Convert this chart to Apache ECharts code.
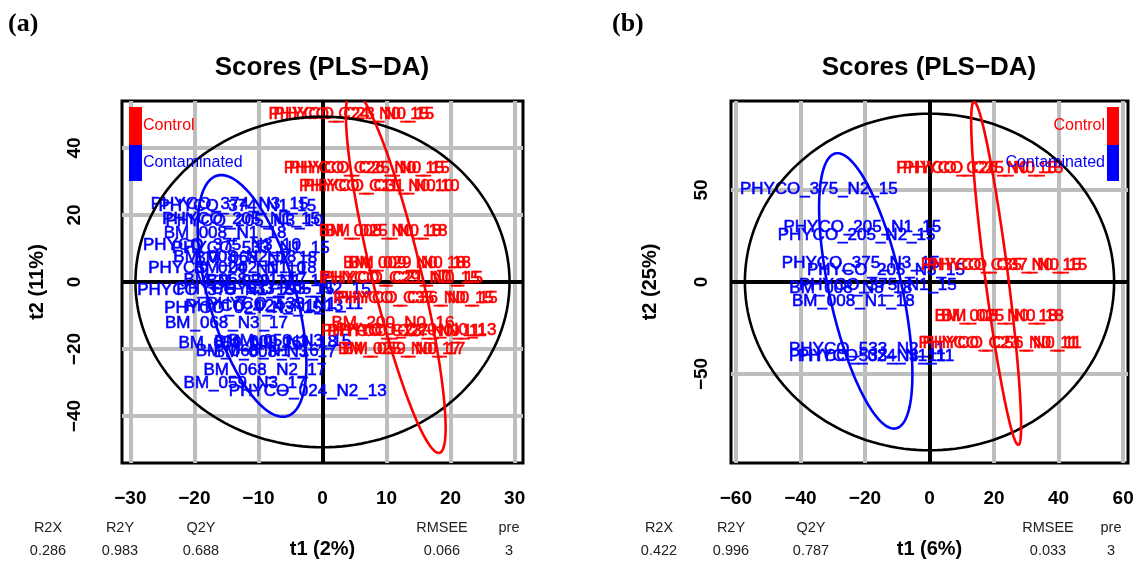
<!DOCTYPE html>
<html>
<head>
<meta charset="utf-8">
<script src="https://cdn.jsdelivr.net/npm/echarts@6/dist/echarts.min.js"></script>
<style>
  html, body { margin: 0; padding: 0; background: #fff; }
  #chart { width: 1137px; height: 567px; }
</style>
</head>
<body>
<div id="chart"></div>
<script>
// ---- data ----
const groups = ['Control', 'Contaminated']
const statNames = ['R2X', 'R2Y', 'Q2Y', 'RMSEE', 'pre']
const statsA = ['0.286', '0.983', '0.688', '0.066', '3']
const statsB = ['0.422', '0.996', '0.787', '0.033', '3']

const ticksAx = [-30, -20, -10, 0, 10, 20, 30]
const ticksAy = [-40, -20, 0, 20, 40]
const ticksBx = [-60, -40, -20, 0, 20, 40, 60]
const ticksBy = [-50, 0, 50]

// [t1, t2, sample]
const controlA = [
  [4.1, 49.9, 'PHYCO_C24_N0_15'],
  [4.9, 49.9, 'PHYCO_C23_N0_15'],
  [6.5, 33.9, 'PHYCO_C26_N0_15'],
  [7.3, 33.9, 'PHYCO_C25_N0_15'],
  [8.4, 28.4, 'PHYCO_C11_N0.10'],
  [9.2, 28.4, 'PHYCO_C31_N0.10'],
  [9.0, 15.0, 'BM_008_N0_18'],
  [9.9, 15.0, 'BM_025_N0_18'],
  [12.8, 5.7, 'BM_009_N0_18'],
  [13.6, 5.7, 'BM_029_N0_18'],
  [12.0, 1.2, 'PHYCO_C29_N0_15'],
  [12.5, 1.2, 'PHYCO_C21_N0_15'],
  [14.2, -5.0, 'PHYCO_C35_N0_15'],
  [14.8, -5.0, 'PHYCO_C36_N0_15'],
  [11.0, -12.3, 'BM_200_N0_16'],
  [12.2, -14.8, 'PHYCO_C23_N0_11'],
  [13.2, -14.6, 'PHYCO_C27_N0_11'],
  [14.6, -14.3, 'PHYCO_C20_N0_13'],
  [12.0, -20.2, 'BM_025_N0_17'],
  [12.7, -20.2, 'BM_059_N0_17']
]
const contamA = [
  [-14.5, 23.2, 'PHYCO_374_N3_15'],
  [-13.3, 22.6, 'PHYCO_374_N1_15'],
  [-12.7, 18.8, 'PHYCO_205_N1_15'],
  [-12.2, 18.2, 'PHYCO_205_N3_10'],
  [-15.2, 14.6, 'BM_008_N1_18'],
  [-15.7, 11.0, 'PHYCO_375_N3_10'],
  [-11.2, 10.1, 'PHYCO_533_N1_15'],
  [-13.7, 7.5, 'BM_008_N2_18'],
  [-10.4, 7.2, 'BM_068_N2_18'],
  [-14.9, 4.2, 'PHYCO_024_N1_10'],
  [-10.5, 4.2, 'BM_002_N1_18'],
  [-12.1, 0.6, 'BM_068_N1_17'],
  [-8.5, 0.3, 'BM_059_N1_17'],
  [-16.6, -2.4, 'PHYCO_375_N1_15'],
  [-10.5, -2.1, 'PHYCO_533_N3_15'],
  [-4.8, -2.1, 'PHYCO_205_N2_15'],
  [-12.4, -7.8, 'PHYCO_024_N3_15'],
  [-9.1, -7.2, 'PHYCO_024_N1_13'],
  [-5.9, -6.6, 'PHYCO_533_N1_11'],
  [-15.0, -12.3, 'BM_068_N3_17'],
  [-12.9, -18.2, 'BM_059_N2_16'],
  [-7.3, -18.0, 'BM_009_N3_18'],
  [-5.1, -17.6, 'BM_050_N3_15'],
  [-10.2, -20.6, 'BM_068_N1_16'],
  [-7.4, -20.9, 'BM_008_N3_17'],
  [-9.0, -26.3, 'BM_068_N2_17'],
  [-12.1, -30.3, 'BM_059_N3_17'],
  [-2.3, -32.7, 'PHYCO_024_N2_13']
]
const controlB = [
  [14.6, 62.0, 'PHYCO_C26_N0_15'],
  [16.6, 62.0, 'PHYCO_C25_N0_15'],
  [22.2, 9.2, 'PHYCO_C35_N0_15'],
  [24.0, 9.2, 'PHYCO_C37_N0_15'],
  [20.6, -18.9, 'BM_008_N0_18'],
  [22.6, -18.9, 'BM_025_N0_18'],
  [21.3, -33.3, 'PHYCO_C23_N0_11'],
  [22.5, -33.3, 'PHYCO_C56_N0_11']
]
const contamB = [
  [-34.3, 50.5, 'PHYCO_375_N2_15'],
  [-20.8, 30.0, 'PHYCO_205_N1_15'],
  [-22.6, 25.5, 'PHYCO_205_N2_15'],
  [-21.3, 10.2, 'PHYCO_375_N3_15'],
  [-13.5, 6.5, 'PHYCO_205_N3_15'],
  [-16.0, -1.6, 'PHYCO_375_N1_15'],
  [-24.4, -3.4, 'BM_008_N3_18'],
  [-23.6, -10.7, 'BM_008_N1_18'],
  [-19.3, -36.4, 'PHYCO_533_N2_11'],
  [-19.3, -40.6, 'PHYCO_533_N3_11'],
  [-16.6, -40.6, 'PHYCO_024_N1_11']
]

// ellipses: [centre t1, centre t2, semi-axis u (t1, t2), conjugate semi-axis v (t1, t2)]
const hotellingA = [[0, 0, 29.2, 0, 0, 49.3]]
const ellipseCtrlA = [[11.44, 3.15, 6.7, -54.15, 3.96, 0]]
const ellipseContA = [[-11.0, -4.15, 4.8, -36.05, 7.0, 0]]
const hotellingB = [[0, 0, 57.2, 0, 0, 91.5]]
const ellipseCtrlB = [[20.65, 4.7, 6.85, -93.3, 3.6, 0]]
const ellipseContB = [[-19.75, -4.85, 8.75, -74.85, 11.5, 0]]

// ---- drawing ----
const SANS = 'Liberation Sans, Arial, sans-serif'
const RED = '#FF0000'
const BLUE = '#0000FF'
const mChart = echarts.init(document.getElementById('chart'))

const fmt = v => (v < 0 ? '\u2212' + Math.abs(v) : String(v))

function makeX(i, min, max, ticks, name) {
  return {
    type: 'value', gridIndex: i, min, max,
    axisLine: { show: false },
    splitLine: { show: false },
    axisTick: { show: true, customValues: ticks, length: 14, lineStyle: { color: '#000', width: 1.5 } },
    axisLabel: {
      customValues: ticks, margin: 26, formatter: fmt,
      color: '#000', fontSize: 19, fontWeight: 'bold', fontFamily: SANS
    },
    name, nameLocation: 'middle', nameGap: 76,
    nameTextStyle: { color: '#000', fontSize: 20, fontWeight: 'bold', fontFamily: SANS }
  }
}

function makeY(i, min, max, ticks, name, margin, gap) {
  return {
    type: 'value', gridIndex: i, min, max,
    axisLine: { show: false },
    splitLine: { show: false },
    axisTick: { show: true, customValues: ticks, length: 14, lineStyle: { color: '#000', width: 1.5 } },
    axisLabel: {
      customValues: ticks, margin, rotate: 90, formatter: fmt,
      color: '#000', fontSize: 19, fontWeight: 'bold', fontFamily: SANS
    },
    name, nameLocation: 'middle', nameGap: gap,
    nameTextStyle: { color: '#000', fontSize: 20, fontWeight: 'bold', fontFamily: SANS }
  }
}

function refLines(i, xs, ys, color, width, z) {
  return {
    type: 'line', xAxisIndex: i, yAxisIndex: i, data: [], silent: true,
    markLine: {
      silent: true, z, symbol: ['none', 'none'], label: { show: false },
      emphasis: { disabled: true },
      lineStyle: { color, width, type: 'solid' },
      data: xs.map(v => ({ xAxis: v })).concat(ys.map(v => ({ yAxis: v })))
    }
  }
}

function labels(i, data, color) {
  return {
    type: 'scatter', xAxisIndex: i, yAxisIndex: i, z: 3, silent: true,
    symbolSize: 0.1, itemStyle: { color: 'rgba(0,0,0,0)' },
    data,
    label: {
      show: true, position: 'inside', formatter: p => p.value[2],
      color, opacity: 1, fontSize: 17, fontFamily: SANS,
      textBorderColor: color, textBorderWidth: 0.6
    },
    emphasis: { disabled: true }
  }
}

function ellipseItem(params, api) {
  const cx = api.value(0), cy = api.value(1)
  const ux = api.value(2), uy = api.value(3)
  const vx = api.value(4), vy = api.value(5)
  const pts = []
  for (let k = 0; k <= 180; k++) {
    const t = (k / 180) * Math.PI * 2
    pts.push(api.coord([cx + Math.cos(t) * ux + Math.sin(t) * vx, cy + Math.cos(t) * uy + Math.sin(t) * vy]))
  }
  return {
    type: 'polyline',
    shape: { points: pts },
    style: { stroke: api.visual('color'), fill: null, lineWidth: 2.6 }
  }
}

function ellipse(i, data, color) {
  return {
    type: 'custom', xAxisIndex: i, yAxisIndex: i, z: 4, silent: true, clip: true,
    itemStyle: { color }, data, renderItem: ellipseItem
  }
}

function txt(x, y, text, o) {
  return {
    type: 'text', x, y, silent: true, z: 10,
    style: Object.assign({ text, fill: '#000', fontSize: 14, fontFamily: SANS, align: 'center', verticalAlign: 'middle' }, o)
  }
}

const statXA = [48, 120, 201, 442, 509]
const statXB = [659, 731, 811, 1048, 1111]
const graphics = []
statNames.forEach((n, k) => {
  graphics.push(txt(statXA[k], 528, n, { fill: '#222', fontSize: 14.5 }))
  graphics.push(txt(statXA[k], 551, statsA[k], { fill: '#222', fontSize: 14.5 }))
  graphics.push(txt(statXB[k], 528, n, { fill: '#222', fontSize: 14.5 }))
  graphics.push(txt(statXB[k], 551, statsB[k], { fill: '#222', fontSize: 14.5 }))
})
graphics.push(txt(8, 24, '(a)', { align: 'left', fontSize: 26, fontWeight: 'bold', fontFamily: 'Liberation Serif, Times New Roman, serif' }))
graphics.push(txt(612, 24, '(b)', { align: 'left', fontSize: 26, fontWeight: 'bold', fontFamily: 'Liberation Serif, Times New Roman, serif' }))
graphics.push(txt(322, 68, 'Scores (PLS\u2212DA)', { fontSize: 26, fontWeight: 'bold' }))
graphics.push(txt(929, 68, 'Scores (PLS\u2212DA)', { fontSize: 26, fontWeight: 'bold' }))

// legend boxes
graphics.push({ type: 'rect', shape: { x: 129, y: 107, width: 13, height: 38 }, style: { fill: RED }, z: 10 })
graphics.push({ type: 'rect', shape: { x: 129, y: 145, width: 13, height: 36 }, style: { fill: BLUE }, z: 10 })
graphics.push(txt(143, 126, groups[0], { align: 'left', fill: RED, fontSize: 16 }))
graphics.push(txt(143, 163, groups[1], { align: 'left', fill: BLUE, fontSize: 16 }))
graphics.push({ type: 'rect', shape: { x: 1107, y: 107, width: 12, height: 38 }, style: { fill: RED }, z: 10 })
graphics.push({ type: 'rect', shape: { x: 1107, y: 145, width: 12, height: 36 }, style: { fill: BLUE }, z: 10 })
graphics.push(txt(1105, 126, groups[0], { align: 'right', fill: RED, fontSize: 16 }))
graphics.push(txt(1105, 163, groups[1], { align: 'right', fill: BLUE, fontSize: 16 }))

const option = {
  animation: false,
  grid: [
    { left: 122, top: 101, width: 401, height: 362, show: true, borderColor: '#000', borderWidth: 3 },
    { left: 731, top: 101, width: 397, height: 362, show: true, borderColor: '#000', borderWidth: 3 }
  ],
  xAxis: [
    makeX(0, -31.3, 31.3, ticksAx, 't1 (2%)'),
    makeX(1, -61.5, 61.5, ticksBx, 't1 (6%)')
  ],
  yAxis: [
    makeY(0, -54, 54, ticksAy, 't2 (11%)', 38, 75),
    makeY(1, -98.4, 98.4, ticksBy, 't2 (25%)', 20, 71)
  ],
  series: [
    refLines(0, ticksAx.filter(v => v !== 0), ticksAy.filter(v => v !== 0), '#BEBEBE', 4, 1),
    refLines(1, ticksBx.filter(v => v !== 0), ticksBy.filter(v => v !== 0), '#BEBEBE', 4, 1),
    refLines(0, [0], [0], '#000', 4, 2),
    refLines(1, [0], [0], '#000', 4, 2),
    labels(0, contamA, BLUE),
    labels(0, controlA, RED),
    labels(1, contamB, BLUE),
    labels(1, controlB, RED),
    ellipse(0, hotellingA, '#000'),
    ellipse(0, ellipseContA, BLUE),
    ellipse(0, ellipseCtrlA, RED),
    ellipse(1, hotellingB, '#000'),
    ellipse(1, ellipseContB, BLUE),
    ellipse(1, ellipseCtrlB, RED)
  ],
  graphic: graphics
}
mChart.setOption(option)
</script>
</body>
</html>
